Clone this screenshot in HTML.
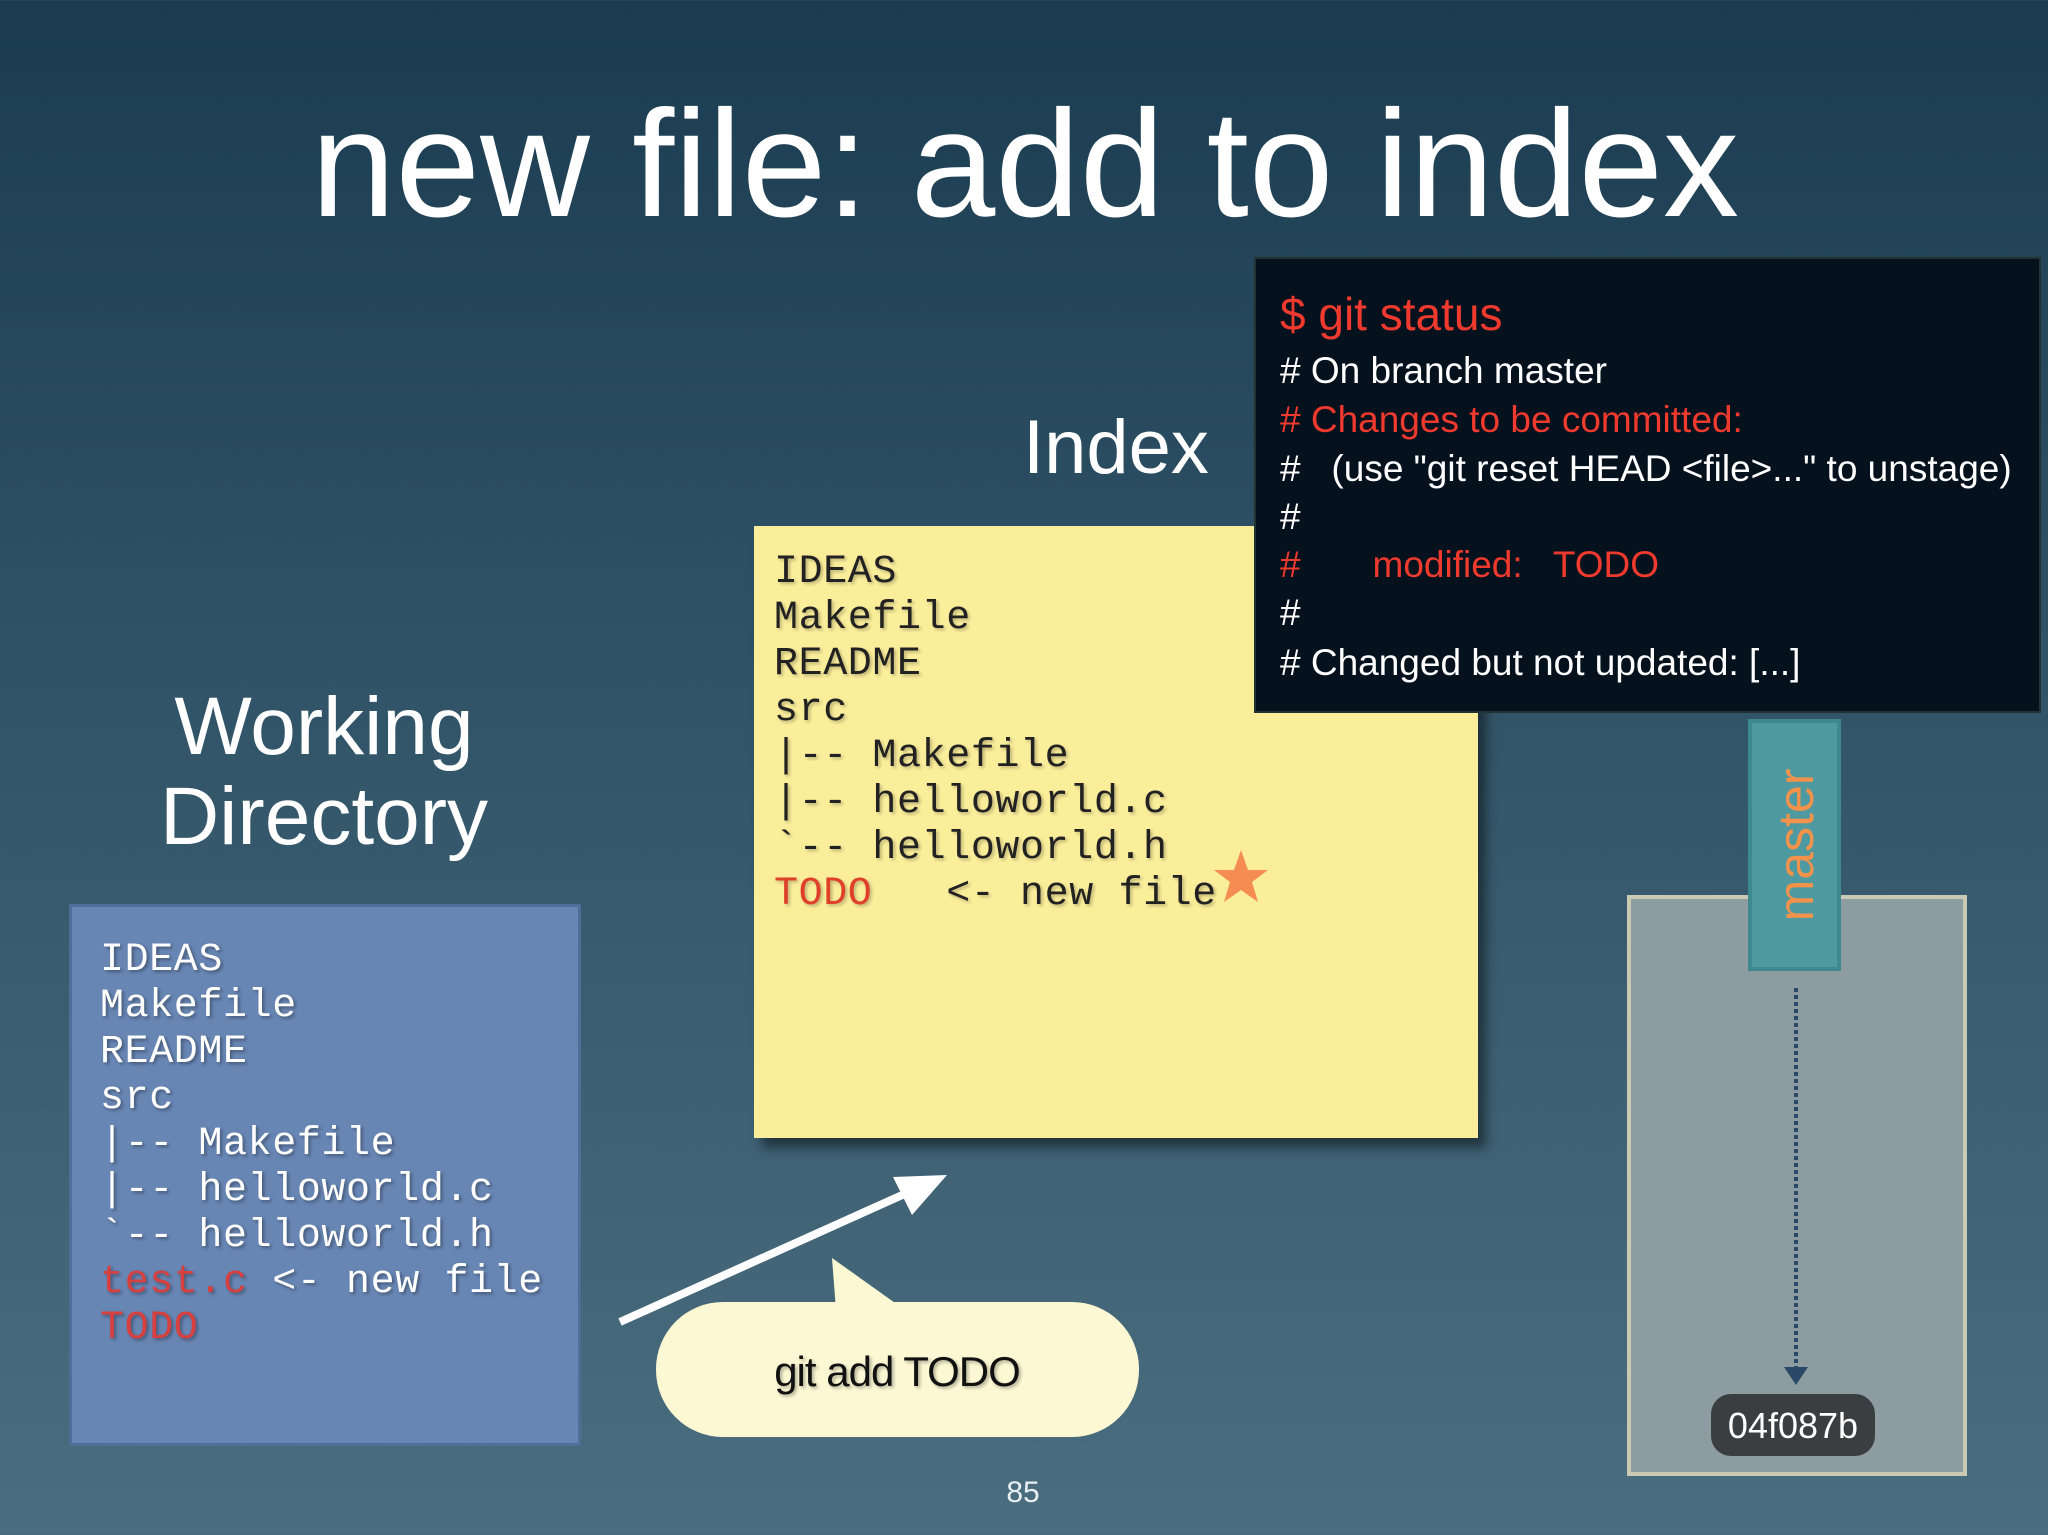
<!DOCTYPE html>
<html><head><meta charset="utf-8"><style>
html,body{margin:0;padding:0}
body{width:2048px;height:1535px;position:relative;overflow:hidden;background:linear-gradient(180deg,#1b3c50 0%,#2f5165 40%,#4a6e80 100%);font-family:"Liberation Sans",sans-serif}
.a{position:absolute;white-space:pre}
.mono{font-family:"Liberation Mono",monospace;font-size:40px;line-height:46px;letter-spacing:0.6px}
.t{position:absolute;left:1280px;font-size:37px;color:#fff;white-space:pre;line-height:1}
.r{color:#f03a2e}
</style></head><body>
<div class="a" style="left:0;width:2050px;top:88px;text-align:center;font-size:152px;color:#fff;letter-spacing:0px;line-height:1">new file: add to index</div>

<div class="a" style="left:1023px;top:410px;font-size:76px;color:#fff;line-height:1">Index</div>
<div class="a" style="left:74px;top:682px;width:500px;text-align:center;font-size:82px;color:#fff;line-height:90px;white-space:normal">Working<br>Directory</div>

<!-- blue box -->
<div class="a" style="left:69px;top:904px;width:506px;height:536px;background:#6886b4;border:3px solid #4f6f98"></div>
<div class="a mono" style="left:100px;top:938px;color:#fff;text-shadow:2px 2px 3px rgba(0,0,0,.35)">IDEAS
Makefile
README
src
|-- Makefile
|-- helloworld.c
`-- helloworld.h
<span style="color:#d84040">test.c</span> &lt;- new file
<span style="color:#d84040">TODO</span></div>

<!-- yellow box -->
<div class="a" style="left:754px;top:526px;width:724px;height:612px;background:#fbee9b;box-shadow:8px 10px 10px rgba(0,0,0,.45)"></div>
<div class="a mono" style="left:774px;top:550px;color:#222;text-shadow:2px 2px 3px rgba(0,0,0,.25)">IDEAS
Makefile
README
src
|-- Makefile
|-- helloworld.c
`-- helloworld.h
<span style="color:#e0402a">TODO</span>   &lt;- new file</div>

<!-- terminal -->
<div class="a" style="left:1254px;top:257px;width:783px;height:452px;background:#06111e;border:2px solid #233"></div>
<div class="t r" style="top:291px;font-size:46px">$ git status</div>
<div class="t" style="top:352px"># On branch master</div>
<div class="t r" style="top:401px"># Changes to be committed:</div>
<div class="t" style="top:450px">#   (use "git reset HEAD &lt;file&gt;..." to unstage)</div>
<div class="t" style="top:498px">#</div>
<div class="t r" style="top:546px">#       modified:   TODO</div>
<div class="t" style="top:594px">#</div>
<div class="t" style="top:644px"># Changed but not updated: [...]</div>

<svg class="a" style="left:0;top:0" width="2048" height="1535">
  <polygon points="1241,850 1248,870 1268,870 1252,882 1258,902 1241,890 1224,902 1230,882 1214,870 1234,870" fill="#f58c52"/>
  <line x1="620" y1="1322" x2="920" y2="1187" stroke="#fff" stroke-width="8"/>
  <polygon points="947,1175 893,1177 912,1215" fill="#fff"/>
  <polygon points="832,1258 836,1310 905,1310" fill="#fcf8d4"/>
  <rect x="656" y="1302" width="483" height="135" rx="67" fill="#fcf8d4"/>
  <text x="897" y="1386" text-anchor="middle" font-family="Liberation Sans" font-size="42" fill="#111" letter-spacing="-1" style="text-shadow:2px 2px 3px rgba(0,0,0,.3)">git add TODO</text>
  <rect x="1629" y="897" width="336" height="577" fill="#8c9ca1" stroke="#c9c9b4" stroke-width="4"/>
  <rect x="1750" y="721" width="89" height="248" fill="#4f9aa0" stroke="#3e8990" stroke-width="4"/>
  <text transform="translate(1813,845) rotate(-90)" text-anchor="middle" font-family="Liberation Sans" font-size="50" fill="#f3924a">master</text>
  <line x1="1796" y1="988" x2="1796" y2="1368" stroke="#2a4868" stroke-width="4" stroke-dasharray="4,3"/>
  <polygon points="1784,1367 1808,1367 1796,1385" fill="#2a4868"/>
  <rect x="1711" y="1394" width="164" height="62" rx="20" fill="#3b3e41"/>
  <text x="1793" y="1438" text-anchor="middle" font-family="Liberation Sans" font-size="36" fill="#fff">04f087b</text>
  <text x="1023" y="1502" text-anchor="middle" font-family="Liberation Sans" font-size="30" fill="#e8eef2">85</text>
</svg>
</body></html>
